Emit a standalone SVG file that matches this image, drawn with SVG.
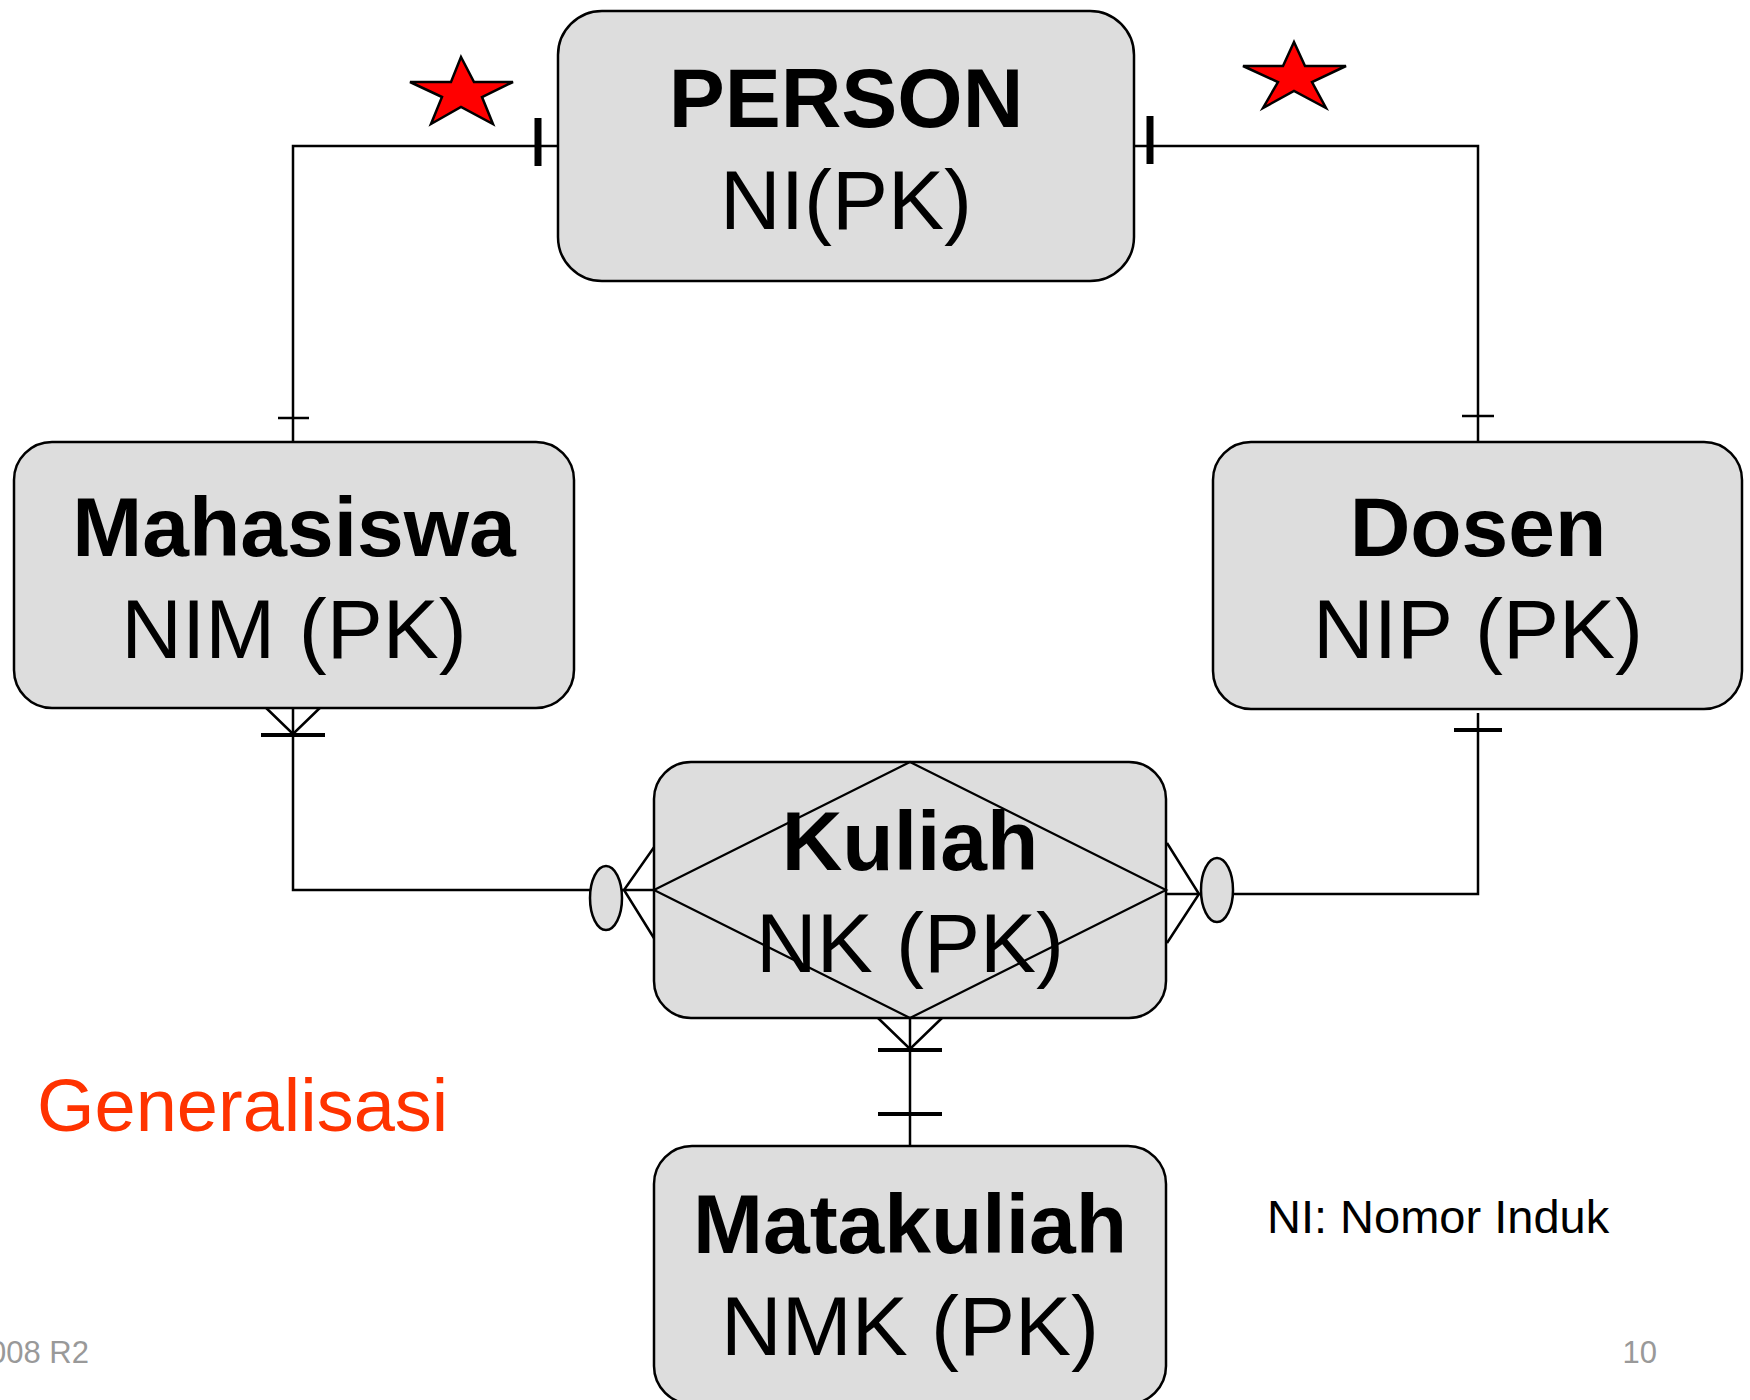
<svg xmlns="http://www.w3.org/2000/svg" width="1750" height="1400" viewBox="0 0 1750 1400">
<style>
.box{fill:#DDDDDD;stroke:#000;stroke-width:2.5}
.t{font-family:"Liberation Sans",Arial,sans-serif;font-size:84px;text-anchor:middle;fill:#000}
.b{font-weight:bold}
.ln{fill:none;stroke:#000;stroke-width:2.5}
.thk{fill:none;stroke:#000;stroke-width:4}
.bar{fill:none;stroke:#000;stroke-width:7}
.ell{fill:#DDDDDD;stroke:#000;stroke-width:2.5}
.star{fill:#FF0000;stroke:#000;stroke-width:2.5;stroke-linejoin:miter}
</style>
<rect width="1750" height="1400" fill="#fff"/>
<g id="connectors">
<polyline class="ln" points="558,146 293,146 293,442"/>
<line class="bar" x1="538" y1="118" x2="538" y2="166"/>
<line class="ln" x1="278" y1="418" x2="309" y2="418"/>
<polyline class="ln" points="1134,146 1478,146 1478,442"/>
<line class="bar" x1="1150" y1="116" x2="1150" y2="164"/>
<line class="ln" x1="1462" y1="416" x2="1494" y2="416"/>
<polyline class="ln" points="293,708 293,890 590,890"/>
<polyline class="ln" points="261,703 293,734 325,703"/>
<line class="thk" x1="261" y1="735" x2="325" y2="735"/>
<line class="ln" x1="622" y1="890" x2="654" y2="890"/>
<polyline class="ln" points="657,843 624,890 657,943"/>
<polyline class="ln" points="1478,713 1478,894 1233,894"/>
<line class="thk" x1="1454" y1="730" x2="1502" y2="730"/>
<line class="ln" x1="1166" y1="894" x2="1201" y2="894"/>
<polyline class="ln" points="1167,843 1199,894 1167,943"/>
<line class="ln" x1="910" y1="1018" x2="910" y2="1146"/>
<polyline class="ln" points="878,1018 910,1049 942,1018"/>
<line class="thk" x1="878" y1="1050" x2="942" y2="1050"/>
<line class="thk" x1="878" y1="1114" x2="942" y2="1114"/>
<ellipse class="ell" cx="606" cy="898" rx="16" ry="32"/>
<ellipse class="ell" cx="1217" cy="890" rx="16" ry="32"/>
</g>
<g id="star-left">
<polygon class="star" points="461,57 474,82 513,82 482,97 493,124 461,107 431,124 442,97 410,82 451,82"/>
</g>
<g id="star-right">
<polygon class="star" points="1294,42 1305,66 1346,66 1312,82 1326,108 1294,91 1263,108 1278,82 1243,66 1283,66"/>
</g>
<g id="person">
<rect class="box" x="558" y="11" width="576" height="270" rx="44" ry="44"/>
<text class="t b" x="846" y="127">PERSON</text>
<text class="t" x="846" y="229">NI(PK)</text>
</g>
<g id="mahasiswa">
<rect class="box" x="14" y="442" width="560" height="266" rx="38" ry="38"/>
<text class="t b" x="294" y="556">Mahasiswa</text>
<text class="t" x="294" y="658">NIM (PK)</text>
</g>
<g id="dosen">
<rect class="box" x="1213" y="442" width="529" height="267" rx="38" ry="38"/>
<text class="t b" x="1478" y="556">Dosen</text>
<text class="t" x="1478" y="658">NIP (PK)</text>
</g>
<g id="kuliah">
<rect class="box" x="654" y="762" width="512" height="256" rx="37" ry="37"/>
<text class="t b" x="910" y="870">Kuliah</text>
<text class="t" x="910" y="972">NK (PK)</text>
<polygon points="654,890 910,762 1166,890 910,1018" fill="none" stroke="#000" stroke-width="2.2"/>
</g>
<g id="matakuliah">
<rect class="box" x="654" y="1146" width="512" height="258" rx="38" ry="38"/>
<text class="t b" x="910" y="1253">Matakuliah</text>
<text class="t" x="910" y="1355">NMK (PK)</text>
</g>
<text x="37" y="1131" font-family="Liberation Sans, Arial, sans-serif" font-size="74" fill="#FF3300">Generalisasi</text>
<text x="1267" y="1233" font-family="Liberation Sans, Arial, sans-serif" font-size="47" fill="#000">NI: Nomor Induk</text>
<text x="89" y="1363" font-family="Liberation Sans, Arial, sans-serif" font-size="31" fill="#999999" text-anchor="end">008 R2</text>
<text x="1657" y="1363" font-family="Liberation Sans, Arial, sans-serif" font-size="31" fill="#999999" text-anchor="end">10</text>
</svg>
